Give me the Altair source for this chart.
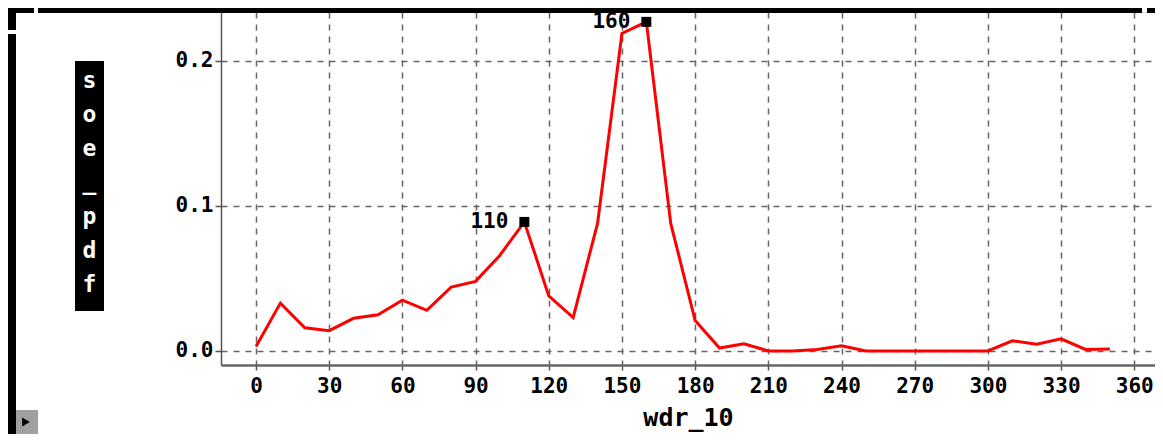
import altair as alt
import pandas as pd

# ---- data ----
wdr_10 = [0, 10, 20, 30, 40, 50, 60, 70, 80, 90, 100, 110, 120, 130, 140, 150, 160, 170,
          180, 190, 200, 210, 220, 230, 240, 250, 260, 270, 280, 290, 300, 310, 320, 330, 340, 350]
soe_pdf = [0.003, 0.033, 0.016, 0.014, 0.0225, 0.025, 0.035, 0.028, 0.044, 0.048, 0.066, 0.089,
           0.038, 0.023, 0.088, 0.219, 0.227, 0.088, 0.021, 0.002, 0.005, 0.0, 0.0, 0.001, 0.0035,
           0.0, 0.0, 0.0, 0.0, 0.0, 0.0, 0.007, 0.0046, 0.0083, 0.001, 0.0014]
marked = [110, 160]
x_ticks = [0, 30, 60, 90, 120, 150, 180, 210, 240, 270, 300, 330, 360]
y_ticks = [0.0, 0.1, 0.2]
y_title_letters = ["s", "o", "e", "_", "p", "d", "f"]

df = pd.DataFrame({"wdr_10": wdr_10, "soe_pdf": soe_pdf})
ann = df[df["wdr_10"].isin(marked)].copy()
ann["label"] = ann["wdr_10"].astype(str)

FONT = "DejaVu Sans Mono"
GRID = "#666666"

xs = alt.Scale(domain=[-14.35, 368.5], nice=False, zero=False)
ys = alt.Scale(domain=[-0.0097, 0.2338], nice=False, zero=False)

x_axis = alt.Axis(values=x_ticks, grid=True, gridDash=[6, 6], gridColor=GRID, gridWidth=1.5,
                  domainColor="#666666", domainWidth=2.5, tickColor="#555555", tickSize=5,
                  tickWidth=1.5, labelFont=FONT, labelFontSize=21, labelFontWeight="bold",
                  labelColor="black", labelPadding=5, labelOverlap=False, labelFlush=False,
                  title="wdr_10", titleFont=FONT, titleFontSize=25, titleFontWeight="bold",
                  titleColor="black", titleBaseline="alphabetic", titleY=60)
y_axis = alt.Axis(values=y_ticks, format=".1f", grid=True, gridDash=[6, 6], gridColor=GRID,
                  gridWidth=1.5, domainColor="#555555", domainWidth=1.5, tickColor="#555555",
                  tickSize=6, tickWidth=1.5, labelFont=FONT, labelFontSize=21,
                  labelFontWeight="bold", labelColor="black", labelPadding=2, title=None)

base = alt.Chart(df)
line = base.mark_line(color="#ff0000", strokeWidth=3).encode(
    x=alt.X("wdr_10:Q", scale=xs, axis=x_axis),
    y=alt.Y("soe_pdf:Q", scale=ys, axis=y_axis),
)

pts = alt.Chart(ann).mark_square(size=100, color="black", opacity=1, filled=True).encode(
    x=alt.X("wdr_10:Q", scale=xs), y=alt.Y("soe_pdf:Q", scale=ys))
lbl = alt.Chart(ann).mark_text(align="right", baseline="middle", dx=-16, font=FONT,
                               fontSize=21, fontWeight="bold", color="black").encode(
    x=alt.X("wdr_10:Q", scale=xs), y=alt.Y("soe_pdf:Q", scale=ys), text="label:N")

one = pd.DataFrame({"k": [0]})


def box(x1, x2, y1, y2, fill="black"):
    return alt.Chart(one).mark_rect(color=fill, opacity=1).encode(
        x=alt.value(x1), x2=alt.value(x2), y=alt.value(y1), y2=alt.value(y2))


frame = [
    box(-183, 921, -4, 1),
    box(926, 934, -4, 1),
    box(-213, -187, -4, 1),
    box(-213, -205, -4, 18),
    box(-213, -205, 22, 422),
    box(-205, -183, 398, 422, "#a0a0a0"),
    box(-146, -117, 49, 299),
]
tri = alt.Chart(one).mark_point(shape="triangle-right", size=80, filled=True, color="black",
                                opacity=1).encode(x=alt.value(-195), y=alt.value(410))
ytitle = alt.Chart(one).mark_text(align="center", baseline="alphabetic", lineHeight=34,
                                  font=FONT, fontSize=23, fontWeight="bold", color="white").encode(
    x=alt.value(-131.5), y=alt.value(76), text=alt.value(y_title_letters))

chart = alt.layer(line, pts, lbl, *frame, tri, ytitle).properties(
    width=934, height=353,
    autosize=alt.AutoSizeParams(type="none"),
    padding={"left": 213, "top": 4, "right": 0, "bottom": 69},
).configure_view(stroke=None).configure(background="white")

chart.save("out.html", embed_options={"renderer": "svg", "actions": False})
